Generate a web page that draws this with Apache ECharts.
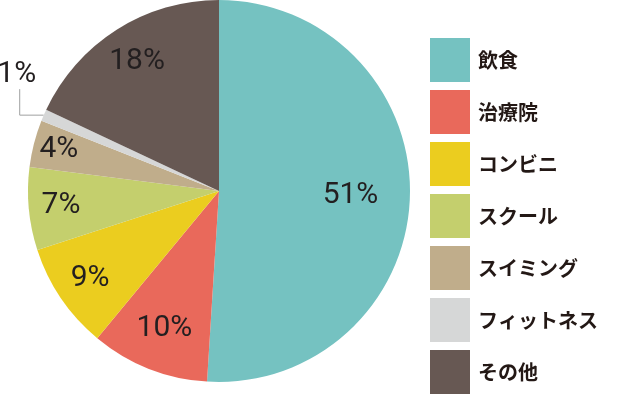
<!DOCTYPE html>
<html><head><meta charset="utf-8">
<script src="https://cdn.jsdelivr.net/npm/echarts@6/dist/echarts.min.js"></script>
<style>html,body{margin:0;padding:0;background:#fff}#c{width:620px;height:394px}</style>
</head><body><div id="c"></div>
<script>
const categories = ['飲食','治療院','コンビニ','スクール','スイミング','フィットネス','その他'];
const values = [51, 10, 9, 7, 4, 1, 18];
const labels = ['51%','10%','9%','7%','4%','1%','18%'];

const colors = ['#75c2c1','#e9695b','#ebcd1f','#c4cf6d','#c0ad8b','#d6d7d7','#675853'];
const labelRadiusFrac = [0.673, 0.76, 0.80, 0.815, 0.85, null, 0.785];
const R = 191;
const total = values.reduce((a,b)=>a+b,0);
let cum = 0;
const data = categories.map((name,i)=>{
  const mid = (cum + values[i]/2)/total*2*Math.PI;
  cum += values[i];
  const item = {name, value: values[i], itemStyle:{color: colors[i]}};
  if (labelRadiusFrac[i] != null) {
    const d = (labelRadiusFrac[i]-0.5)*R;
    item.label = {position:'inside', offset:[Math.sin(mid)*d, -Math.cos(mid)*d]};
  } else {
    item.label = {position:'outside'};
    item.labelLine = {show:true, length:10, length2:10, lineStyle:{color:'#9fa0a0', width:1}};
  }
  return item;
});
const chart = echarts.init(document.getElementById('c'), null, {renderer:'canvas'});
const labelFont = "Roboto,'Liberation Sans',sans-serif";
chart.setOption({
  animation:false,
  legend:{
    orient:'vertical', left:430, top:38, icon:'rect', padding:0, height:360,
    itemWidth:40, itemHeight:44, itemGap:8,
    data: categories,
    textStyle:{fontSize:20, fontWeight:'bold', color:'#231815', fontFamily:"'Noto Sans CJK JP',sans-serif", padding:[0,0,0,3]}
  },
  series:[{
    type:'pie', center:[219,191], radius:R, startAngle:90, clockwise:true,
    avoidLabelOverlap:false,
    label:{show:true, formatter:(p)=>labels[p.dataIndex], fontSize:30, color:'#231f20', fontFamily:labelFont},
    labelLine:{show:false},
    itemStyle:{borderWidth:0},
    emphasis:{disabled:true},
    labelLayout:function(p){
      if (p.dataIndex !== 5 || !p.labelLinePoints) return {};
      const pt = p.labelLinePoints[0];
      const ex = pt[0]-24, ey = pt[1]-26;
      return {x: ex-3, y: ey-15, align:'center', verticalAlign:'middle',
        labelLinePoints:[[pt[0],pt[1]],[ex,pt[1]],[ex,ey]]};
    },
    data: data
  }]
});
</script></body></html>
